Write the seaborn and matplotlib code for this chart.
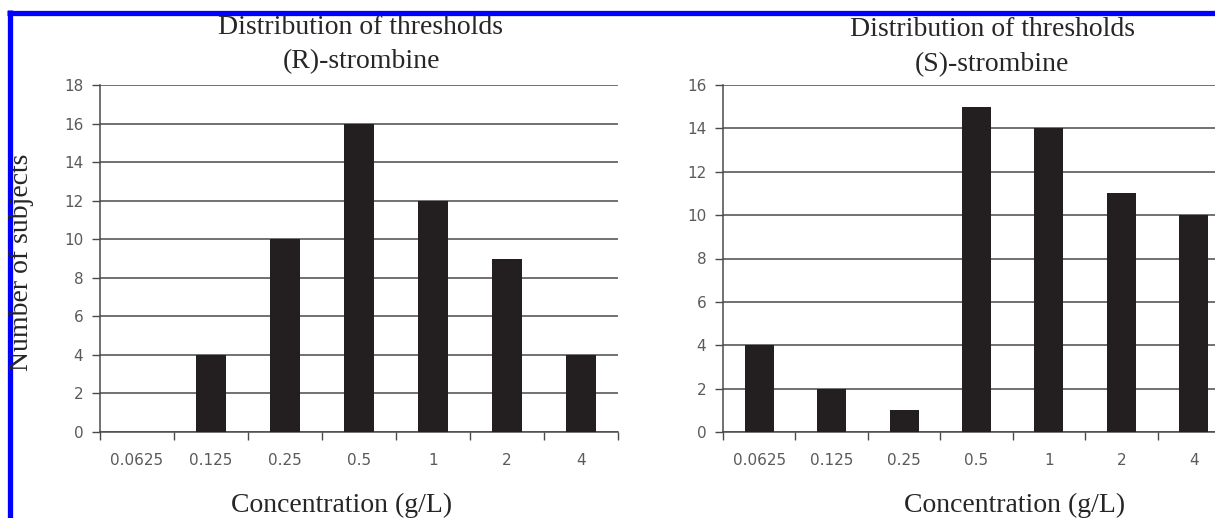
import numpy as np
import pandas as pd
import matplotlib.pyplot as plt
import seaborn as sns
from matplotlib.lines import Line2D
from matplotlib.ticker import FixedLocator

sns.set_style("white")
plt.rcParams['font.family'] = ['DejaVu Sans']

concentrations = ["0.0625", "0.125", "0.25", "0.5", "1", "2", "4"]
r_counts = [0, 4, 10, 16, 12, 9, 4]
s_counts = [4, 2, 1, 15, 14, 11, 10]

serif = ['Liberation Serif', 'DejaVu Serif']
bar_color = "#231f20"
grid_color = "#4a4a4a"
tick_color = "#5a5a5a"

W, H = 1215, 518
fig = plt.figure(figsize=(W / 100, H / 100), dpi=100)

# axes positions in pixels (left, top, right, bottom) + title placement
panels = [
    (100, 85, 618, 432, r_counts, 18, "(R)-strombine", 361, 27, 342),
    (723, 85, 1230, 432, s_counts, 16, "(S)-strombine", 992, 30, 1015),
]

for x0, y0, x1, y1, counts, ymax, name, title_x, title_y, xlab_x in panels:
    ax = fig.add_axes([x0 / W, 1 - y1 / H, (x1 - x0) / W, (y1 - y0) / H])
    df = pd.DataFrame({"conc": concentrations, "n": counts})
    sns.barplot(data=df, x="conc", y="n", color=bar_color, width=0.4,
                saturation=1, linewidth=0, ax=ax, zorder=3)
    ax.set_xlim(-0.5, 6.5)
    ax.set_ylim(0, ymax)
    ax.set_yticks(np.arange(0, ymax + 1, 2))
    ax.yaxis.grid(True, color=grid_color, lw=1.1, zorder=0)
    ax.set_axisbelow(True)
    ax.xaxis.set_minor_locator(FixedLocator(np.arange(-0.5, 7, 1)))
    ax.tick_params(axis="x", which="major", length=0, pad=15,
                   labelsize=11, labelcolor=tick_color)
    ax.tick_params(axis="x", which="minor", length=6, width=1,
                   color=grid_color, direction="out", bottom=True)
    ax.tick_params(axis="y", length=6, width=1, color=grid_color,
                   direction="out", left=True, pad=6,
                   labelsize=11, labelcolor=tick_color)
    for side in ["top", "right"]:
        ax.spines[side].set_visible(False)
    for side in ["left", "bottom"]:
        ax.spines[side].set_color(grid_color)
        ax.spines[side].set_linewidth(1.1)
    ax.set_xlabel("")
    ax.set_ylabel("")

    fig.text(title_x / W, 1 - title_y / H, "Distribution of thresholds",
             family=serif, fontsize=20, ha="center", va="center")
    fig.text(title_x / W, 1 - (title_y + 35) / H, name,
             family=serif, fontsize=20, ha="center", va="center")
    fig.text(xlab_x / W, 1 - 505 / H, "Concentration (g/L)",
             family=serif, fontsize=20, ha="center", va="center")

fig.text(22 / W, 1 - 262 / H, "Number of subjects", family=serif,
         fontsize=20, rotation=90, ha="center", va="center")

# blue frame
fig.add_artist(Line2D([7 / W, 1], [1 - 12.5 / H] * 2, color="#0000ff",
                      lw=3.8, solid_capstyle="butt"))
fig.add_artist(Line2D([9.5 / W] * 2, [0, 1 - 10 / H], color="#0000ff",
                      lw=3.8, solid_capstyle="butt"))

plt.savefig("out.png", dpi=100)
